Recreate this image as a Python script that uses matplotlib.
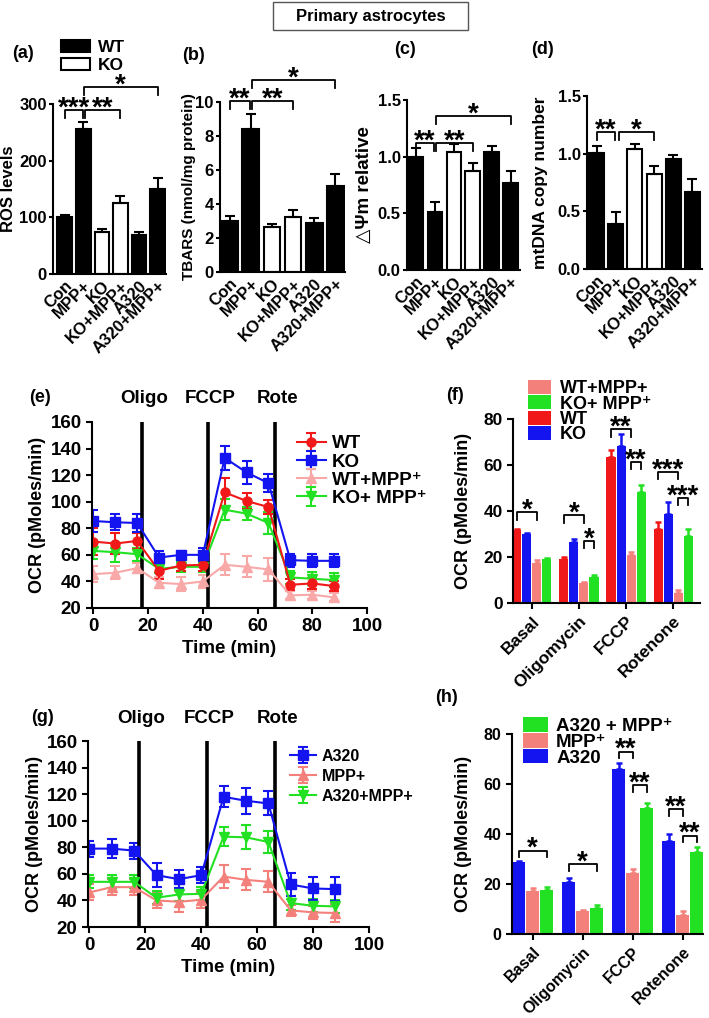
import matplotlib

matplotlib.use("Agg")
import matplotlib.pyplot as plt  # noqa: E402
from matplotlib.patches import Patch, Rectangle  # noqa: E402

plt.rcParams["font.family"] = ["Liberation Sans", "DejaVu Sans"]
plt.rcParams["font.weight"] = "bold"
plt.rcParams["axes.labelweight"] = "bold"
plt.rcParams["axes.linewidth"] = 1.5
plt.rcParams["xtick.major.width"] = 1.5
plt.rcParams["ytick.major.width"] = 1.5
plt.rcParams["xtick.major.size"] = 4
plt.rcParams["ytick.major.size"] = 4

# ---- panels a-d: six groups, WT bars black, KO bars white
groups = ["Con", "MPP+", "KO", "KO+MPP+", "A320", "A320+MPP+"]
fills = ["black", "black", "white", "white", "black", "black"]
ros = [100, 256, 74, 125, 69, 150]
ros_err = [5, 13, 6, 12, 6, 19]
tbars = [3.0, 8.44, 2.65, 3.22, 2.88, 5.04]
tbars_err = [0.3, 0.85, 0.2, 0.4, 0.3, 0.7]
dpsi = [1.0, 0.515, 1.045, 0.87, 1.045, 0.77]
dpsi_err = [0.08, 0.085, 0.065, 0.07, 0.045, 0.105]
mtdna = [1.01, 0.39, 1.04, 0.825, 0.95, 0.67]
mtdna_err = [0.06, 0.1, 0.045, 0.065, 0.04, 0.11]

# ---- panels e, g: Seahorse time course
time = [0, 8, 16, 24, 32, 40, 48, 56, 64, 72, 80, 88]
injections = [17.6, 42, 66.5]
inj_names = ["Oligo", "FCCP", "Rote"]
wt = [70, 68.5, 70.5, 48, 52, 52.5, 107, 100.5, 96, 37.5, 38.5, 36.5]
wt_err = [10, 8, 6, 6, 4, 5, 11, 6, 5, 4, 4, 4]
ko = [85.5, 84.5, 84, 58, 60, 60, 133, 122, 114, 56, 55.5, 55.5]
ko_err = [8, 6, 7, 5, 3, 5, 9, 9, 7, 5, 5, 5]
wt_mpp = [45.5, 46.5, 50, 39, 38, 40, 52.5, 51, 49, 29.5, 30, 28]
wt_mpp_err = [6, 5, 4, 4, 5, 5, 8, 8, 9, 3, 3, 3]
ko_mpp = [63, 62, 60.5, 49.5, 51, 51, 94, 91, 84, 43, 42, 41]
ko_mpp_err = [6, 7, 5, 3, 4, 4, 8, 5, 8, 5, 5, 5]

a320 = [79, 79, 77.5, 59, 56, 59, 118, 115, 113, 52, 49, 48.5]
a320_err = [6, 7, 6, 9, 7, 6, 8, 10, 9, 9, 9, 9]
mpp = [46, 50, 50, 40, 39, 40.5, 58, 55.5, 54, 32.5, 31, 30.5]
mpp_err = [6, 6, 6, 6, 8, 6, 9, 8, 8, 4, 5, 7]
a320_mpp = [54, 54, 54, 42, 44.5, 45, 88, 87.5, 84, 38, 36, 35.5]
a320_mpp_err = [5, 5, 5, 5, 5, 5, 7, 9, 8, 5, 5, 5]

# ---- panels f, h: OCR summary bars
phases = ["Basal", "Oligomycin", "FCCP", "Rotenone"]
f_wt = [31.7, 19.0, 63.4, 32.1]
f_wt_err = [0.6, 1.2, 3.0, 3.0]
f_ko = [30.0, 26.7, 68.4, 38.9]
f_ko_err = [0.6, 1.0, 5.0, 5.0]
f_wt_mpp = [17.3, 8.6, 20.9, 4.3]
f_wt_mpp_err = [1.2, 0.6, 1.2, 1.3]
f_ko_mpp = [19.2, 11.5, 48.3, 29.3]
f_ko_mpp_err = [0.5, 0.8, 3.0, 3.0]

h_a320 = [28.7, 21.0, 66.2, 37.4]
h_a320_err = [0.6, 1.6, 2.3, 2.7]
h_mpp = [17.1, 9.2, 24.5, 7.6]
h_mpp_err = [1.5, 0.5, 1.5, 1.6]
h_a320_mpp = [17.8, 10.3, 50.5, 33.0]
h_a320_mpp_err = [1.2, 1.3, 2.0, 2.0]

RED, BLUE, PINK, GREEN = "#f01818", "#1414f0", "#f4807c", "#22e022"
PINK_LIGHT = "#f9a8a8"

W, H = 709, 1018
fig = plt.figure(figsize=(W / 100, H / 100), dpi=100)


def add_ax(l, t, r, b):
    ax = fig.add_axes([l / W, 1 - b / H, (r - l) / W, (b - t) / H])
    ax.spines[["top", "right"]].set_visible(False)
    ax._px = (l, r)
    return ax


def fig_xy(x, y):
    return x / W, 1 - y / H


def place_ylabel(ax, x_px):
    l, r = ax._px
    ax.yaxis.set_label_coords((x_px - l) / (r - l), 0.5)
    ax.yaxis.label.set_va("center")


def bracket(ax, x1, x2, y, d, text, fs=20, off=1):
    ax.plot([x1, x1, x2, x2], [y - d, y, y, y - d], color="k", lw=1.3, clip_on=False)
    ax.annotate(text, ((x1 + x2) / 2, y), xytext=(0, off), textcoords="offset points",
                ha="center", va="center", fontsize=fs, fontweight="bold", annotation_clip=False)


def six_bars(ax, vals, errs, ylim, yticks, yfmt, ylabel, xlim, label_fs, label_x):
    x = range(len(groups))
    ax.bar(x, vals, width=0.78, color=fills, edgecolor="black", linewidth=1.5,
           yerr=[[0] * len(errs), errs], error_kw=dict(ecolor="black", elinewidth=1.5,
                                                       capsize=3.5, capthick=1.5))
    ax.set_xlim(*xlim)
    ax.set_ylim(*ylim)
    ax.set_yticks(yticks)
    ax.set_yticklabels([yfmt.format(v) for v in yticks], fontsize=12)
    ax.tick_params(axis="y", length=3, pad=1.5)
    ax.set_xticks(list(x))
    ax.set_xticklabels(groups, rotation=45, ha="right", rotation_mode="anchor", fontsize=12)
    ax.tick_params(axis="x", length=0, pad=3)
    ax.set_ylabel(ylabel, fontsize=label_fs)
    place_ylabel(ax, label_x)


# title box
fig.patches.append(Rectangle(fig_xy(273, 30), 195 / W, 28 / H, transform=fig.transFigure,
                             fill=False, edgecolor="#555555", linewidth=1.0))
fig.text(*fig_xy(370.5, 16), "Primary astrocytes", ha="center", va="center", fontsize=12)

# (a)
ax = add_ax(53, 104, 166, 274)
six_bars(ax, ros, ros_err, (0, 300), [0, 100, 200, 300], "{:d}", "ROS levels",
         (-0.63, 5.45), 12, 9)
bracket(ax, 0, 0.97, 289, 14, "***")
bracket(ax, 1.07, 3, 289, 14, "**")
bracket(ax, 1.03, 5, 330, 14, "*")
ax.legend(handles=[Patch(facecolor="black", edgecolor="black", lw=1.5, label="WT"),
                   Patch(facecolor="white", edgecolor="black", lw=1.5, label="KO")],
          loc="upper left", bbox_to_anchor=fig_xy(52, 31), bbox_transform=fig.transFigure,
          frameon=False, borderpad=0, fontsize=12.5, handlelength=1.7, handleheight=0.75,
          handletextpad=0.45, labelspacing=0.15)
fig.text(*fig_xy(23, 53), "(a)", ha="center", va="center", fontsize=13)

# (b)
ax = add_ax(220, 102, 345, 272)
six_bars(ax, tbars, tbars_err, (0, 10), [0, 2, 4, 6, 8, 10], "{:d}",
         "TBARS (nmol/mg protein)", (-0.45, 5.45), 11, 189)
bracket(ax, 0, 0.97, 10.05, 0.48, "**")
bracket(ax, 1.04, 3, 10.05, 0.48, "**")
bracket(ax, 1.04, 5, 11.3, 0.48, "*")
fig.text(*fig_xy(193, 55), "(b)", ha="center", va="center", fontsize=13)

# (c)
ax = add_ax(407, 100, 520, 270)
six_bars(ax, dpsi, dpsi_err, (0, 1.5), [0.0, 0.5, 1.0, 1.5], "{:.1f}",
         "△Ψm relative", (-0.47, 5.48), 13.5, 364)
bracket(ax, 0, 0.97, 1.12, 0.07, "**")
bracket(ax, 1.04, 3, 1.12, 0.07, "**")
bracket(ax, 1.04, 5, 1.36, 0.07, "*")
fig.text(*fig_xy(405, 50), "(c)", ha="center", va="center", fontsize=13)

# (d)
ax = add_ax(587, 96, 702, 269)
six_bars(ax, mtdna, mtdna_err, (0, 1.5), [0.0, 0.5, 1.0, 1.5], "{:.1f}",
         "mtDNA copy number", (-0.5, 5.5), 12.5, 541)
bracket(ax, 0, 0.97, 1.19, 0.07, "**")
bracket(ax, 1.15, 3, 1.19, 0.07, "*")
fig.text(*fig_xy(542, 50), "(d)", ha="center", va="center", fontsize=13)


def time_course(ax, series, names_y, label_x):
    for vals, errs, color, marker, label in series:
        ax.errorbar(time, vals, yerr=errs, color=color, marker=marker, markersize=6.5,
                    lw=1.5, elinewidth=1.5, capsize=3.5, capthick=1.5, label=label)
    for xv, name in zip(injections, inj_names):
        ax.axvline(xv, color="black", lw=2.6)
        ax.text(xv + 0.8, names_y, name, ha="center", va="center", fontsize=13.5,
                clip_on=False)
    ax.set_xlim(-0.5, 100)
    ax.set_ylim(20, 160)
    ax.set_xticks(range(0, 101, 20))
    ax.set_yticks(range(20, 161, 20))
    ax.tick_params(labelsize=13.5)
    ax.set_xlabel("Time (min)", fontsize=13.5, labelpad=3)
    ax.set_ylabel("OCR (pMoles/min)", fontsize=13)
    place_ylabel(ax, label_x)


# (e)
ax = add_ax(92, 422, 367, 608)
time_course(ax, [(wt_mpp, wt_mpp_err, PINK_LIGHT, "^", "WT+MPP⁺"),
                 (ko_mpp, ko_mpp_err, GREEN, "v", "KO+ MPP⁺"),
                 (wt, wt_err, RED, "o", "WT"),
                 (ko, ko_err, BLUE, "s", "KO")], 178, 38)
h, l = ax.get_legend_handles_labels()
order = [2, 3, 0, 1]
ax.legend([h[i] for i in order], [l[i] for i in order], loc="upper left",
          bbox_to_anchor=fig_xy(288, 426), bbox_transform=fig.transFigure, frameon=False,
          borderpad=0, fontsize=13.5, handlelength=1.5, handletextpad=0.35, labelspacing=0.05)
fig.text(*fig_xy(40, 398), "(e)", ha="center", va="center", fontsize=13)

# (g)
ax = add_ax(88, 741, 369, 927)
time_course(ax, [(mpp, mpp_err, PINK, "^", "MPP+"),
                 (a320_mpp, a320_mpp_err, GREEN, "v", "A320+MPP+"),
                 (a320, a320_err, BLUE, "s", "A320")], 177, 35)
h, l = ax.get_legend_handles_labels()
order = [2, 0, 1]
ax.legend([h[i] for i in order], [l[i] for i in order], loc="upper left",
          bbox_to_anchor=fig_xy(282, 741), bbox_transform=fig.transFigure, frameon=False,
          borderpad=0, fontsize=11.5, handlelength=1.6, handletextpad=0.4, labelspacing=0.3)
fig.text(*fig_xy(43, 718), "(g)", ha="center", va="center", fontsize=13)


def ocr_bars(ax, series, w, xlim, tick_fs, xt_fs):
    n = len(series)
    for i, (vals, errs, color, label) in enumerate(series):
        xs = [g + (i - (n - 1) / 2) * w for g in range(len(phases))]
        ax.bar(xs, vals, width=w * 0.9, color=color, label=label,
               yerr=[[0] * len(errs), errs],
               error_kw=dict(ecolor=color, elinewidth=1.8, capsize=2.5, capthick=1.8))
    ax.set_xlim(*xlim)
    ax.set_ylim(0, 80)
    ax.set_yticks(range(0, 81, 20))
    ax.tick_params(axis="y", labelsize=tick_fs)
    ax.set_xticks(range(len(phases)))
    ax.set_xticklabels(phases, rotation=45, ha="right", rotation_mode="anchor", fontsize=xt_fs)
    ax.set_ylabel("OCR (pMoles/min)", fontsize=13)
    place_ylabel(ax, 463)


# (f)
ax = add_ax(513, 419, 700, 603)
wf = 0.213
ocr_bars(ax, [(f_wt, f_wt_err, RED, "WT"), (f_ko, f_ko_err, BLUE, "KO"),
              (f_wt_mpp, f_wt_mpp_err, PINK, "WT+MPP+"),
              (f_ko_mpp, f_ko_mpp_err, GREEN, "KO+ MPP⁺")], wf, (-0.4, 3.57), 12.5, 12.5)
xr, xp, xg = -1.5 * wf, 0.5 * wf, 1.5 * wf
d = 3.3
bracket(ax, 0 + xr, 0 + xp, 39.6, d, "*")
bracket(ax, 1 + xr, 1 + xp, 38.2, d, "*")
bracket(ax, 1 + xp, 1 + xg, 27.0, d, "*")
bracket(ax, 2 + xr, 2 + xp, 75.6, d, "**")
bracket(ax, 2 + xp, 2 + xg, 61.5, d, "**")
bracket(ax, 3 + xr, 3 + xp, 57.0, d, "***")
bracket(ax, 3 + xp, 3 + xg, 45.8, d, "***")
h, l = ax.get_legend_handles_labels()
order = [2, 3, 0, 1]
ax.legend([h[i] for i in order], [l[i] for i in order], loc="upper left",
          bbox_to_anchor=fig_xy(519, 371), bbox_transform=fig.transFigure, frameon=False,
          borderpad=0, fontsize=13, handlelength=1.25, handleheight=0.8,
          handletextpad=0.5, labelspacing=-0.1)
fig.text(*fig_xy(455, 395), "(f)", ha="center", va="center", fontsize=13)

# (h)
ax = add_ax(512, 734, 703, 934)
wh = 0.28
ocr_bars(ax, [(h_a320, h_a320_err, BLUE, "A320"), (h_mpp, h_mpp_err, PINK, "MPP⁺"),
              (h_a320_mpp, h_a320_mpp_err, GREEN, "A320 + MPP⁺")], wh, (-0.41, 3.41),
         11.5, 11.5)
xb, xp, xg = -wh, 0, wh
d = 2.7
bracket(ax, 0 + xb, 0 + xg, 33.4, d, "*")
bracket(ax, 1 + xb, 1 + xg, 28.0, d, "*")
bracket(ax, 2 + xb, 2 + xp, 73.0, d, "**")
bracket(ax, 2 + xp, 2 + xg, 59.5, d, "**")
bracket(ax, 3 + xb, 3 + xp, 50.0, d, "**")
bracket(ax, 3 + xp, 3 + xg, 39.4, d, "**")
h, l = ax.get_legend_handles_labels()
order = [2, 1, 0]
ax.legend([h[i] for i in order], [l[i] for i in order], loc="upper left",
          bbox_to_anchor=fig_xy(514, 708), bbox_transform=fig.transFigure, frameon=False,
          borderpad=0, fontsize=13.5, handlelength=1.3, handleheight=0.8,
          handletextpad=0.45, labelspacing=-0.1)
fig.text(*fig_xy(447, 697), "(h)", ha="center", va="center", fontsize=13)

fig.savefig("out.png", dpi=100)
